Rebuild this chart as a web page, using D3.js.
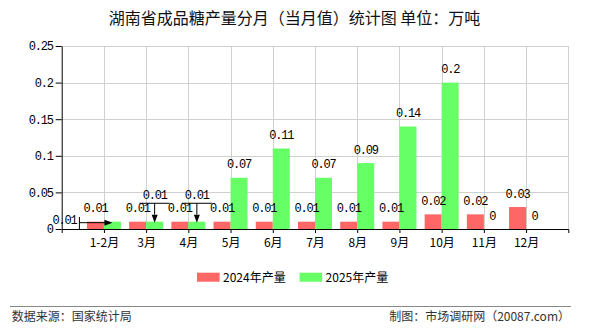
<!DOCTYPE html>
<html>
<head>
<meta charset="utf-8">
<script src="https://cdn.jsdelivr.net/npm/d3@7"></script>
<style>
  body { margin: 0; background: #fff; }
  svg { display: block; }
</style>
</head>
<body>
<svg width="590" height="330"></svg>
<script>
// 数据
const months = ["1-2月", "3月", "4月", "5月", "6月", "7月", "8月", "9月", "10月", "11月", "12月"]
const output2024 = [0.01, 0.01, 0.01, 0.01, 0.01, 0.01, 0.01, 0.01, 0.02, 0.02, 0.03]
const output2025 = [0.01, 0.01, 0.01, 0.07, 0.11, 0.07, 0.09, 0.14, 0.2, 0, 0]
const yTicks = [0, 0.05, 0.1, 0.15, 0.2, 0.25]
const seriesNames = ["2024年产量", "2025年产量"]
const colors = ["#ff6666", "#66ff66"]

const width = 590
const height = 330
const margin = {top: 46, right: 21.7, bottom: 101, left: 61.7}
const cjk = "'Noto Sans CJK SC', sans-serif"
const mono = "'Liberation Mono', 'DejaVu Sans Mono', monospace"

const svg = d3.select("svg")

// 比例尺
const x = d3.scalePoint()
  .domain(months)
  .range([margin.left, width - margin.right])
  .padding(1)

const xSub = d3.scaleBand()
  .domain([0, 1])
  .range([-17, 17])

const y = d3.scaleLinear()
  .domain([0, 0.25])
  .range([height - margin.bottom, margin.top])

// 标题
svg.append("text")
  .attr("x", 294.5)
  .attr("y", 24)
  .attr("text-anchor", "middle")
  .attr("font-family", cjk)
  .attr("font-size", 16)
  .attr("fill", "#111")
  .text("湖南省成品糖产量分月（当月值）统计图 单位：万吨")

// 网格
const grid = svg.append("g").attr("stroke", "#d0d0d0").attr("stroke-width", 1)
grid.selectAll(".h")
  .data(yTicks.filter(d => d > 0))
  .join("line")
  .attr("x1", margin.left).attr("x2", width - margin.right)
  .attr("y1", d => Math.round(y(d)) + 0.5).attr("y2", d => Math.round(y(d)) + 0.5)
grid.selectAll(".v")
  .data(months.map(m => x(m)).concat([width - margin.right]))
  .join("line")
  .attr("x1", d => Math.round(d) + 0.5).attr("x2", d => Math.round(d) + 0.5)
  .attr("y1", y(0.25)).attr("y2", y(0))

// 柱子
const series = [output2024, output2025]
const bars = svg.append("g")
series.forEach((vals, s) => {
  bars.append("g")
    .attr("fill", colors[s])
    .selectAll("rect")
    .data(vals)
    .join("rect")
    .attr("x", (d, i) => x(months[i]) + xSub(s))
    .attr("y", d => y(d))
    .attr("width", xSub.bandwidth())
    .attr("height", d => y(0) - y(d))
})

// 坐标轴
svg.append("g")
  .attr("transform", `translate(0,${y(0)})`)
  .call(d3.axisBottom(x).tickSize(4).tickSizeOuter(4).tickPadding(5))
  .call(g => g.selectAll("text").attr("font-family", cjk).attr("font-size", 12).attr("fill", "#000"))

svg.append("g")
  .attr("transform", `translate(${margin.left},0)`)
  .call(d3.axisLeft(y).tickValues(yTicks).tickFormat(d3.format("~g")).tickSize(6).tickSizeOuter(0).tickPadding(3))
  .call(g => g.selectAll("text").attr("font-family", mono).attr("font-size", 12).attr("letter-spacing", "-1.2px").attr("fill", "#000"))

// 数据标签
const labels = svg.append("g")
  .attr("font-family", mono)
  .attr("font-size", 12)
  .attr("letter-spacing", "-1.2px")
  .attr("fill", "#000")
  .attr("text-anchor", "middle")

const fmt = d3.format("~g")
series.forEach((vals, s) => {
  vals.forEach((v, i) => {
    const cx = x(months[i]) + xSub(s) + xSub.bandwidth() / 2
    const top = y(v)
    if (s === 1 && i === 0) {
      // 左侧引线标签
      labels.append("text").attr("x", cx - 48).attr("y", top + 2.6).text(fmt(v))
      labels.append("path")
        .attr("d", `M${cx - 33},${y(0)}V${y(0) - 12}M${cx - 33},${top + 1}H${cx - 7}`)
        .attr("stroke", "#000").attr("fill", "none")
      labels.append("path")
        .attr("d", `M${cx - 8},${top - 2}L${cx},${top + 1}L${cx - 8},${top + 4}Z`)
        .attr("fill", "#000")
    } else if (s === 1 && (i === 1 || i === 2)) {
      // 上方引线标签
      labels.append("text").attr("x", cx).attr("y", top - 22.4).text(fmt(v))
      labels.append("path")
        .attr("d", `M${cx - 15},${top - 18.4}H${cx + 15}M${cx},${top - 18.4}V${top - 7}`)
        .attr("stroke", "#000").attr("fill", "none")
      labels.append("path")
        .attr("d", `M${cx - 3},${top - 7}L${cx},${top + 1}L${cx + 3},${top - 7}Z`)
        .attr("fill", "#000")
    } else {
      labels.append("text").attr("x", cx).attr("y", top - 9.5).text(fmt(v))
    }
  })
})

// 图例
const legend = svg.append("g")
  .selectAll("g")
  .data(seriesNames)
  .join("g")
  .attr("transform", (d, i) => `translate(${197 + i * 102.6},272.7)`)
legend.append("rect")
  .attr("width", 22.6).attr("height", 9)
  .attr("fill", (d, i) => colors[i])
legend.append("text")
  .attr("x", 26).attr("y", 9.3)
  .attr("font-family", cjk).attr("font-size", 12).attr("fill", "#000")
  .text(d => d)

// 底部
svg.append("line")
  .attr("x1", 10).attr("x2", 571)
  .attr("y1", 306.5).attr("y2", 306.5)
  .attr("stroke", "#888")
svg.append("text")
  .attr("x", 11.7).attr("y", 320.5)
  .attr("font-family", cjk).attr("font-size", 12).attr("fill", "#333")
  .text("数据来源：国家统计局")
svg.append("text")
  .attr("x", 570).attr("y", 320.5)
  .attr("text-anchor", "end")
  .attr("font-family", cjk).attr("font-size", 12).attr("fill", "#333")
  .text("制图：市场调研网（20087.com）")
</script>
</body>
</html>
